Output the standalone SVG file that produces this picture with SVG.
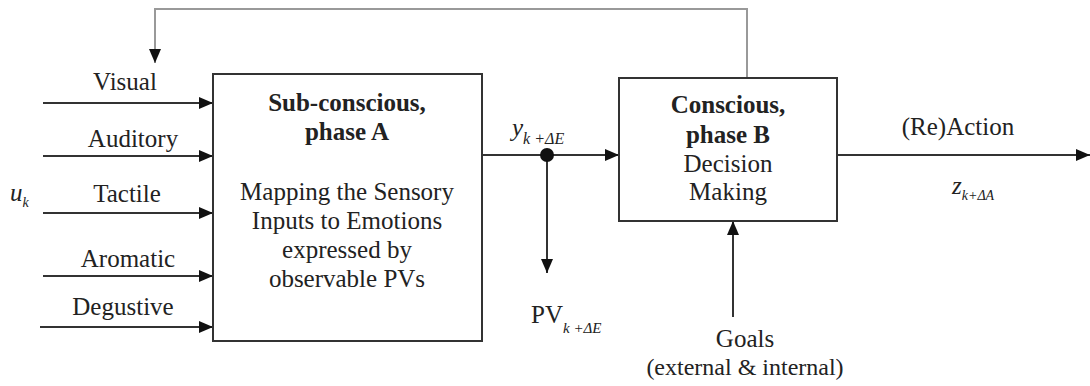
<svg xmlns="http://www.w3.org/2000/svg" width="1090" height="386" viewBox="0 0 1090 386">
<style>
  text{font-family:'Liberation Serif','Times New Roman','DejaVu Serif',serif;font-size:25px;fill:#222;text-anchor:middle}
  .b{font-weight:bold}
  .i{font-style:italic}
  .box{fill:#fff;stroke:#333;stroke-width:2}
  .ln{stroke:#333;stroke-width:2;fill:none}
  .fb{stroke:#999;stroke-width:2;fill:none}
</style>
<defs>
  <marker id="ah" markerUnits="userSpaceOnUse" markerWidth="14" markerHeight="12" refX="14" refY="6" orient="auto">
    <path d="M0,0 L14,6 L0,12 Z" fill="#111"/>
  </marker>
</defs>
<rect width="1090" height="386" fill="#fff"/>
<g id="connectors">
  <path class="ln" d="M43,103 H213" marker-end="url(#ah)"/>
  <path class="ln" d="M43,156 H213" marker-end="url(#ah)"/>
  <path class="ln" d="M43,213 H213" marker-end="url(#ah)"/>
  <path class="ln" d="M43,276 H213" marker-end="url(#ah)"/>
  <path class="ln" d="M40,327 H213" marker-end="url(#ah)"/>
  <path class="ln" d="M482,155 H619" marker-end="url(#ah)"/>
  <path class="ln" d="M547,155 V273" marker-end="url(#ah)"/>
  <circle cx="547" cy="155" r="7" fill="#111"/>
  <path class="ln" d="M733,317 V221" marker-end="url(#ah)"/>
  <path class="ln" d="M837,155 H1090" marker-end="url(#ah)"/>
  <path class="fb" d="M747,78 V9 H155 V63" marker-end="url(#ah)"/>
</g>
<g id="inputs">
  <text x="125" y="90">Visual</text>
  <text x="133" y="147">Auditory</text>
  <text x="127" y="202">Tactile</text>
  <text x="128" y="267">Aromatic</text>
  <text x="123" y="315">Degustive</text>
  <text class="i" x="10" y="201" style="text-anchor:start">u<tspan font-size="14" dy="6">k</tspan></text>
</g>
<g id="phaseA">
  <rect class="box" x="213" y="74" width="269" height="267"/>
  <text class="b" x="347" y="111">Sub-conscious,</text>
  <text class="b" x="347" y="140">phase A</text>
  <text x="347" y="200">Mapping the Sensory</text>
  <text x="347" y="229">Inputs to Emotions</text>
  <text x="347" y="258">expressed by</text>
  <text x="347" y="287">observable PVs</text>
</g>
<g id="phaseB">
  <rect class="box" x="619" y="78" width="218" height="143"/>
  <text class="b" x="728" y="113">Conscious,</text>
  <text class="b" x="728" y="143">phase B</text>
  <text x="728" y="172">Decision</text>
  <text x="728" y="200">Making</text>
</g>
<g id="labels">
  <text class="i" x="512" y="136" style="text-anchor:start">y<tspan font-size="16" dy="8">k +ΔE</tspan></text>
  <text x="531" y="323" style="text-anchor:start">PV<tspan class="i" font-size="15" dy="10">k +ΔE</tspan></text>
  <text x="745" y="347" font-size="24">Goals</text>
  <text x="745" y="375" style="font-size:24px">(external &amp; internal)</text>
  <text x="958" y="135">(Re)Action</text>
  <text class="i" x="952" y="194" style="text-anchor:start">z<tspan font-size="14" dy="6">k+ΔA</tspan></text>
</g>
</svg>
